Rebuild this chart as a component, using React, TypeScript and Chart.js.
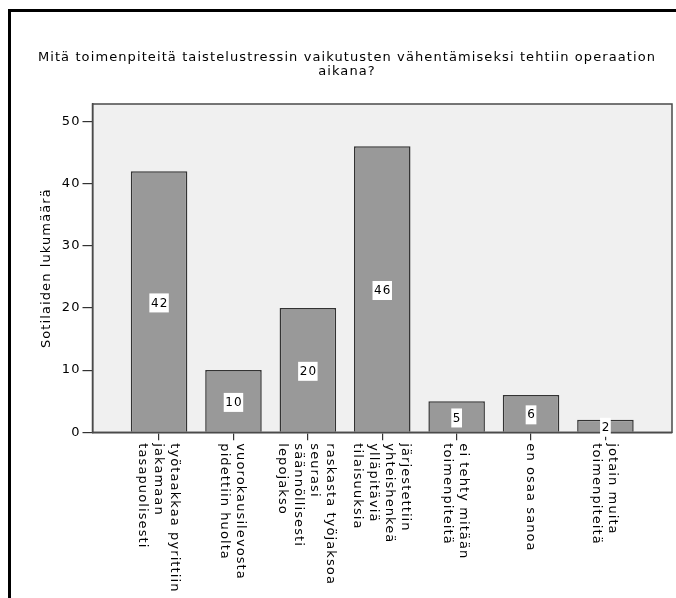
import React, { useEffect, useRef } from "react";
import { Chart, registerables } from "chart.js";

Chart.register(...registerables);

// ---- data ----
const titleLines = [
  "Mitä toimenpiteitä taistelustressin vaikutusten vähentämiseksi tehtiin operaation",
  "aikana?",
];
const yAxisTitle = "Sotilaiden lukumäärä";
const categories: string[][] = [
  ["työtaakkaa pyrittiin", "jakamaan", "tasapuolisesti"],
  ["vuorokausilevosta", "pidettiin huolta"],
  ["raskasta työjaksoa", "seurasi", "säännöllisesti", "lepojakso"],
  ["järjestettiin", "yhteishenkeä", "ylläpitäviä", "tilaisuuksia"],
  ["ei tehty mitään", "toimenpiteitä"],
  ["en osaa sanoa"],
  ["jotain muita", "toimenpiteitä"],
];
const counts = [42, 10, 20, 46, 5, 6, 2];
const yTicks = [0, 10, 20, 30, 40, 50];
const yMax = 52.8;

// ---- style ----
const FONT = "'DejaVu Sans', sans-serif";
const LS = "1.1px";
const W = 676;
const H = 598;

export default function App() {
  const ref = useRef<HTMLCanvasElement>(null);

  useEffect(() => {
    document.body.style.margin = "0";
    document.body.style.overflow = "hidden";
    const canvas = ref.current;
    if (!canvas) return;

    const spss = {
      id: "spss",
      beforeDraw(chart: any) {
        const ctx = chart.ctx as CanvasRenderingContext2D;
        (ctx as any).letterSpacing = LS;
        const a = chart.chartArea;
        ctx.save();
        ctx.fillStyle = "#f0f0f0";
        ctx.fillRect(a.left, a.top, a.right - a.left, a.bottom - a.top);
        ctx.restore();
        ctx.save();
        ctx.fillStyle = "#000";
        ctx.font = `13px ${FONT}`;
        ctx.textAlign = "center";
        ctx.textBaseline = "alphabetic";
        titleLines.forEach((l, i) => ctx.fillText(l, 347, 60.5 + i * 14));
        ctx.restore();
      },
      afterDatasetsDraw(chart: any) {
        const ctx = chart.ctx as CanvasRenderingContext2D;
        const a = chart.chartArea;
        ctx.save();
        ctx.strokeStyle = "#4a4a4a";
        ctx.lineWidth = 1.5;
        ctx.strokeRect(a.left, a.top, a.right - a.left, a.bottom - a.top);
        ctx.restore();

        const meta = chart.getDatasetMeta(0);
        ctx.save();
        ctx.font = `12px ${FONT}`;
        ctx.textAlign = "center";
        ctx.textBaseline = "middle";
        meta.data.forEach((bar: any, i: number) => {
          const txt = String(counts[i]);
          const w = ctx.measureText(txt).width + 2;
          const h = 19;
          const cx = bar.x;
          const cy = (bar.y + bar.base) / 2 + 1.5;
          ctx.fillStyle = "#ffffff";
          ctx.fillRect(cx - w / 2, cy - h / 2, w, h);
          ctx.fillStyle = "#000";
          ctx.fillText(txt, cx + 0.6, cy + 0.5);
        });
        ctx.restore();
      },
      afterDraw(chart: any) {
        const ctx = chart.ctx as CanvasRenderingContext2D;
        const xs = chart.scales.x;
        const top = chart.chartArea.bottom + 11;
        const lh = 16;
        ctx.save();
        ctx.font = `13px ${FONT}`;
        ctx.fillStyle = "#000";
        ctx.textAlign = "left";
        ctx.textBaseline = "middle";
        categories.forEach((lines, i) => {
          const x = xs.getPixelForValue(i);
          ctx.save();
          ctx.translate(x, top);
          ctx.rotate(Math.PI / 2);
          const n = lines.length;
          lines.forEach((ln, j) => {
            ctx.fillText(ln, 0, (j - (n - 1) / 2) * lh + 1);
          });
          ctx.restore();
        });
        ctx.restore();
      },
    };

    const chart = new Chart(canvas, {
      type: "bar",
      data: {
        datasets: [
          {
            data: counts.map((v, i) => ({ x: i, y: v })),
            backgroundColor: "#999999",
            borderColor: "#333333",
            borderWidth: 1.5,
            categoryPercentage: 1,
            barPercentage: 0.76,
          },
        ],
      },
      options: {
        animation: false,
        responsive: false,
        devicePixelRatio: 1,
        layout: { padding: { top: 104, left: 0, right: 4, bottom: 0 } },
        plugins: {
          legend: { display: false },
          title: { display: false },
          tooltip: { enabled: false },
        },
        scales: {
          x: {
            type: "linear",
            min: -0.895,
            max: 6.895,
            offset: false,
            afterBuildTicks: (s: any) => {
              s.ticks = categories.map((_, i) => ({ value: i }));
            },
            afterFit: (s: any) => {
              s.height = H - 432.3;
            },
            ticks: { display: false },
            grid: {
              offset: false,
              drawOnChartArea: false,
              drawTicks: true,
              tickLength: 8,
              color: "#333333",
              lineWidth: 1.2,
            },
            border: { display: true, color: "#4a4a4a", width: 1.5 },
          },
          y: {
            type: "linear",
            min: 0,
            max: yMax,
            afterBuildTicks: (s: any) => {
              s.ticks = yTicks.map((v) => ({ value: v }));
            },
            afterFit: (s: any) => {
              s.width = 92.5;
            },
            ticks: {
              font: { family: FONT, size: 13 },
              color: "#000",
              padding: 2,
            },
            grid: {
              offset: false,
              drawOnChartArea: false,
              drawTicks: true,
              tickLength: 10,
              color: "#333333",
              lineWidth: 1.2,
            },
            border: { display: true, color: "#4a4a4a", width: 1.5 },
            title: {
              display: true,
              text: yAxisTitle,
              font: { family: FONT, size: 13 },
              color: "#000",
              padding: { top: 39, bottom: 0 },
            },
          },
        },
      },
      plugins: [spss],
    });

    return () => chart.destroy();
  }, []);

  return (
    <div style={{ position: "relative", width: W, height: H, overflow: "hidden", background: "#fff" }}>
      <canvas ref={ref} width={W} height={H} style={{ display: "block" }} />
      <div
        style={{
          position: "absolute",
          left: 8,
          top: 9,
          width: 700,
          height: 700,
          borderLeft: "3px solid #000",
          borderTop: "3px solid #000",
          pointerEvents: "none",
        }}
      />
    </div>
  );
}
